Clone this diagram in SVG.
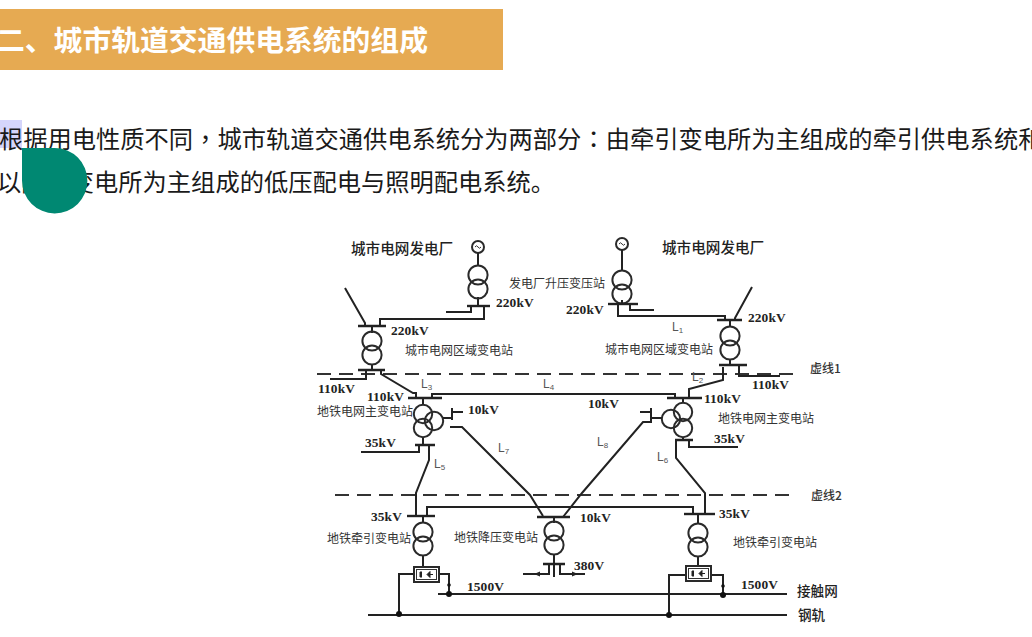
<svg xmlns="http://www.w3.org/2000/svg" width="1032" height="637" viewBox="0 0 1032 637">
<style>
.w{fill:none;stroke:#222;stroke-width:2;stroke-linejoin:miter}
.b{fill:none;stroke:#222;stroke-width:2.4}
.d{fill:none;stroke:#333;stroke-width:2.2;stroke-dasharray:14 8}
.c{fill:none;stroke:#2a2a2a;stroke-width:2}
.dot{fill:#111}
text{font-family:"Noto Sans CJK SC","Liberation Sans",sans-serif}
.h{font-size:28.8px;font-weight:700;fill:#fff}
.p{font-size:24.28px;fill:#1a1a1a}
.tc{font-family:"Noto Sans CJK TC",sans-serif}
.k{font-family:"Liberation Serif","Noto Sans CJK SC",serif;font-size:13.4px;font-weight:700;fill:#222;letter-spacing:.1px}
.n{font-size:12px;fill:#333}
.t{font-size:14.6px;font-weight:500;fill:#222}
.l{font-family:"Liberation Sans",sans-serif;font-size:12px;fill:#555}
.s{font-size:8px}
</style>
<defs>
<g id="xf"><circle class="c" cx="0" cy="-7" r="9.6"/><circle class="c" cx="0" cy="7" r="9.6"/></g>
<g id="gen"><circle class="c" cx="0" cy="0" r="6"/><path d="M-3 0q1.500 -2.500 3 0t3 0" fill="none" stroke="#333" stroke-width="1"/></g>
<g id="rect"><rect class="c" x="0" y="0" width="25" height="15"/><rect x="2.500" y="2.500" width="20" height="10" fill="none" stroke="#333" stroke-width="1"/><path d="M8 5h-2v5h2M13 7.500l3 -3v6zM16 7.500h3" fill="#222" stroke="#222" stroke-width="1"/></g>
</defs>
<rect width="1032" height="637" fill="#fff"/>
<g id="header">
<rect x="0" y="9" width="503" height="61" fill="#E6AA52"/>
<text class="h" x="-4" y="51">二、城市轨道交通供电系统的组成</text>
</g>
<g id="body">
<rect x="0" y="120" width="22" height="28" fill="#D5D5FB"/>
<text class="p" x="-1" y="148">根据用电性质不同<tspan class="tc">，</tspan>城市轨道交通供电系统分为两部分<tspan class="tc">：</tspan>由牵引变电所为主组成的牵引供电系统和</text>
<text class="p" x="-3" y="191">以降压变电所为主组成的低压配电与照明配电系统。</text>
<path d="M22 148H54.700A32.700 32.700 0 1 1 22 180.500Z" fill="#008872"/>
</g>
<g id="connectors">
<path class="d" d="M317 374H800"/>
<path class="d" d="M335 495H795"/>
<path class="w" d="M446 312H471V306M484 306V319H380V326"/>
<path class="w" d="M345 288L365 323V326"/>
<path class="w" d="M366 370V379H330M381 370V374L413 393H416V398"/>
<path class="w" d="M432 398V394H675V398"/>
<path class="w" d="M689 398V389L723 380V367"/>
<path class="w" d="M739 365V376H780"/>
<path class="w" d="M752 287L735 318V320"/>
<path class="w" d="M618 304V316H725V320"/>
<path class="w" d="M630 304V310H654"/>
<path class="w" d="M450 427H462L530 495L543 516"/>
<path class="w" d="M652 422H643L582 493L563 517"/>
<path class="w" d="M419 445V452H361"/>
<path class="w" d="M429 445V460L416 493V516"/>
<path class="w" d="M689 440V447H738"/>
<path class="w" d="M676 440V458L705 493V514"/>
<path class="w" d="M693 514V507H427V516"/>
<path class="w" d="M438 594H787"/>
<path class="w" d="M368 615H787"/>
<path class="w" d="M414 574H399V615M438 574H449V594"/>
<path class="w" d="M686 575H669V615M711 575H723V595"/>
<circle class="dot" cx="399" cy="614" r="3"/>
<circle class="dot" cx="449" cy="594" r="3"/>
<circle class="dot" cx="669" cy="615" r="3"/>
<circle class="dot" cx="723" cy="595" r="3"/>
<circle class="dot" cx="449" cy="585" r="1.800"/>
<circle class="dot" cx="723" cy="586" r="1.800"/>
</g>
<g id="plant-left">
<use href="#gen" x="478" y="247"/><path class="w" d="M478 253V266M478 297V306"/><use href="#xf" x="478" y="282"/>
<path class="b" d="M467 306H490"/>
<text class="t" x="351" y="254">城市电网发电厂</text>
<text class="k" x="496" y="307">220kV</text>
</g>
<g id="plant-right">
<use href="#gen" x="622" y="244"/><path class="w" d="M622 250V270M622 300V304"/><use href="#xf" x="622" y="287"/>
<path class="b" d="M608 304H638"/>
<text class="t" x="662" y="253">城市电网发电厂</text>
<text class="n" x="509" y="288">发电厂升压变压站</text>
<text class="k" x="566" y="314">220kV</text>
</g>
<g id="regional-left">
<path class="b" d="M358 326H386M358 370H385"/><path class="w" d="M372 326V333M372 364V370"/><use href="#xf" x="372" y="348"/>
<text class="k" x="391" y="335">220kV</text>
<text class="n" x="405" y="355">城市电网区域变电站</text>
<text class="k" x="318" y="393">110kV</text>
</g>
<g id="regional-right">
<path class="b" d="M717 320H742M719 365H747"/><path class="w" d="M730 320V327M730 360V365"/><use href="#xf" x="730" y="343"/>
<text class="k" x="748" y="322">220kV</text>
<text class="n" x="605" y="354">城市电网区域变电站</text>
<text class="k" x="752" y="389">110kV</text>
<text class="n" x="810" y="373" style="font-weight:500">虚线1</text>
</g>
<g id="main-left">
<path class="b" d="M408 398H442M415 445H435"/><path class="w" d="M423 398V405M423 437V445"/>
<circle class="c" cx="423" cy="414" r="9.200"/><circle class="c" cx="434" cy="421" r="9.200"/><circle class="c" cx="423" cy="428" r="9.200"/>
<path class="w" d="M443 418H452M452 408V420M452 412H463"/>
<text class="k" x="367" y="401">110kV</text>
<text class="n" x="317" y="416">地铁电网主变电站</text>
<text class="k" x="468" y="414">10kV</text>
<text class="k" x="365" y="447">35kV</text>
</g>
<g id="main-right">
<path class="b" d="M667 398H702M675 440H693"/><path class="w" d="M683 398V403M683 437V440"/>
<circle class="c" cx="683" cy="412" r="9.200"/><circle class="c" cx="671" cy="419" r="9.200"/><circle class="c" cx="683" cy="428" r="9.200"/>
<path class="w" d="M651 408V422M640 412H651M651 418H662"/>
<text class="k" x="704" y="403">110kV</text>
<text class="k" x="588" y="408">10kV</text>
<text class="n" x="718" y="423">地铁电网主变电站</text>
<text class="k" x="714" y="443">35kV</text>
</g>
<g id="traction-left">
<path class="b" d="M407 516H435"/><path class="w" d="M423 516V523M423 556V567"/><use href="#xf" x="423" y="539"/>
<use href="#rect" x="414" y="567"/>
<text class="k" x="371" y="521">35kV</text>
<text class="n" x="327" y="543">地铁牵引变电站</text>
<text class="k" x="467" y="591">1500V</text>
</g>
<g id="step-down">
<path class="b" d="M537 517H570M543 564H565"/><path class="w" d="M554 517V523M554 554V577M549 564V574H523M560 564V574H585"/><use href="#xf" x="554" y="538"/>
<path d="M534 574l6 -2.500v5zM578 574l-6 -2.500v5z" fill="#222"/>
<text class="n" x="454" y="542">地铁降压变电站</text>
<text class="k" x="580" y="522">10kV</text>
<text class="k" x="574" y="570">380V</text>
</g>
<g id="traction-right">
<path class="b" d="M684 514H715"/><path class="w" d="M698 514V524M698 557V566"/><use href="#xf" x="698" y="540"/>
<use href="#rect" x="686" y="566"/>
<text class="k" x="719" y="518">35kV</text>
<text class="n" x="733" y="547">地铁牵引变电站</text>
<text class="k" x="741" y="589">1500V</text>
</g>
<g id="labels">
<text class="n" x="811" y="500" style="font-weight:500">虚线2</text>
<text class="t" x="797" y="596" style="font-size:13.600px">接触网</text>
<text class="t" x="798" y="620" style="font-size:13.600px">钢轨</text>
<text class="l" x="672" y="331">L<tspan class="s" dy="2">1</tspan></text>
<text class="l" x="692" y="381">L<tspan class="s" dy="2">2</tspan></text>
<text class="l" x="421" y="388">L<tspan class="s" dy="2">3</tspan></text>
<text class="l" x="543" y="388">L<tspan class="s" dy="2">4</tspan></text>
<text class="l" x="434" y="468">L<tspan class="s" dy="2">5</tspan></text>
<text class="l" x="657" y="461">L<tspan class="s" dy="2">6</tspan></text>
<text class="l" x="498" y="452">L<tspan class="s" dy="2">7</tspan></text>
<text class="l" x="597" y="446">L<tspan class="s" dy="2">8</tspan></text>
</g>
</svg>
